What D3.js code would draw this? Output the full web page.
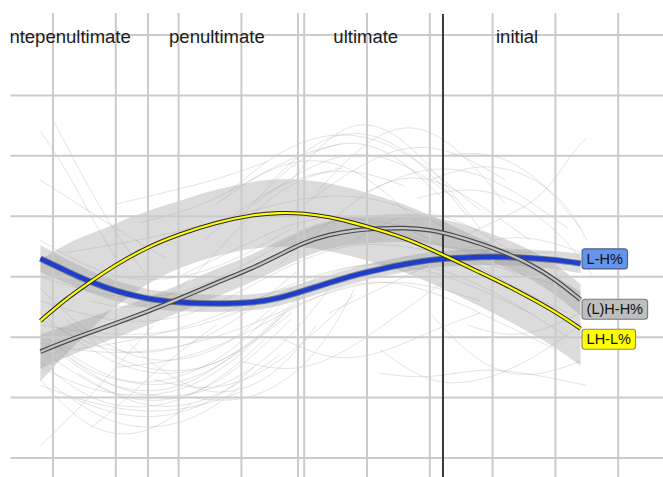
<!DOCTYPE html>
<html><head><meta charset="utf-8">
<script src="https://cdn.jsdelivr.net/npm/d3@7"></script>
<style>body{margin:0;background:#fff}svg{display:block}</style>
</head><body>
<svg id="chart" width="663" height="477"></svg>
<script>
// ---------- DATA ----------
const timePoints = [-0.2,0.2,0.6,1.0,1.5,2.0,2.6,3.2,3.6,4.0,4.4,4.8,5.2,5.6,6.0,6.4,6.8,7.2,7.6,8.0,8.4];
const seriesNames = ["L-H%", "(L)H-H%", "LH-L%"];
const valuesLH  = [3.30,3.10,2.91,2.76,2.63,2.57,2.55,2.57,2.64,2.77,2.90,3.03,3.12,3.21,3.28,3.31,3.33,3.33,3.31,3.28,3.22];
const valuesLHH = [1.76,1.93,2.08,2.23,2.42,2.63,2.90,3.15,3.36,3.57,3.70,3.77,3.80,3.81,3.78,3.68,3.55,3.40,3.21,2.96,2.62];
const valuesLHL = [2.27,2.63,2.92,3.20,3.49,3.70,3.90,4.03,4.06,4.05,3.99,3.89,3.77,3.64,3.46,3.27,3.07,2.87,2.65,2.42,2.14];
const seLH  = [0.22,0.20,0.18,0.17,0.15,0.15,0.14,0.13,0.13,0.13,0.13,0.13,0.13,0.13,0.13,0.13,0.13,0.14,0.14,0.15,0.16];
const seLHH = [0.28,0.26,0.25,0.24,0.23,0.23,0.23,0.23,0.23,0.23,0.23,0.23,0.23,0.23,0.23,0.23,0.23,0.23,0.24,0.25,0.26];
const seLHL = [1.00,0.92,0.79,0.68,0.60,0.55,0.55,0.55,0.56,0.56,0.56,0.56,0.56,0.56,0.56,0.56,0.56,0.57,0.58,0.59,0.61];

const syllables = ["antepenultimate", "penultimate", "ultimate", "initial"];
const syllableLabelPos = [0.19, 2.61, 4.98, 7.39];
const syllableBoundaries = [1.513, 3.901];
const wordBoundary = [6.21];
const xGridTicks = [0,1,2,3,4,5,6,7,8,9];
const yGridTicks = [0,1,2,3,4,5,6,7];

// individual (background) contours, [time, value] pairs
const backgroundContours = [
  [[-0.2,1.6],[0.5,1.0],[1.2,0.8],[2.0,0.9],[2.8,1.4],[3.4,2.0]],
  [[-0.2,2.0],[0.6,1.3],[1.4,1.05],[2.2,1.2],[3.0,1.8]],
  [[0.0,1.2],[0.8,0.6],[1.6,0.45],[2.4,0.7],[3.0,1.2]],
  [[-0.2,2.4],[0.8,1.6],[1.8,1.3],[2.8,1.6],[3.8,2.4]],
  [[0.2,1.7],[1.0,1.1],[2.0,0.95],[3.0,1.3],[3.8,2.0],[4.4,2.8]],
  [[-0.2,1.3],[0.4,0.6],[1.0,0.35],[1.6,0.45],[2.2,0.9]],
  [[-0.2,0.2],[0.4,0.8],[1.0,1.5],[1.6,2.2]],
  [[0.6,0.5],[1.2,1.0],[1.8,1.6],[2.6,2.2]],
  [[1.2,1.9],[2.0,1.2],[2.8,1.0],[3.6,1.4],[4.2,2.2]],
  [[2.2,1.0],[3.0,0.9],[3.8,1.3],[4.4,2.0],[4.8,2.8]],
  [[3.0,4.0],[3.8,4.9],[4.6,5.3],[5.4,5.1],[6.2,4.3]],
  [[3.4,4.5],[4.2,5.3],[5.0,5.45],[5.8,5.0],[6.6,4.0]],
  [[2.6,4.2],[3.4,4.8],[4.2,5.0],[5.0,4.7],[5.8,3.9]],
  [[3.8,4.6],[4.6,5.6],[5.4,5.5],[6.2,4.6],[6.8,3.8]],
  [[4.2,4.4],[5.0,5.3],[5.8,5.6],[6.6,5.0],[7.2,4.2]],
  [[6.0,4.6],[6.8,4.9],[7.6,4.7],[8.2,4.2],[8.5,3.6]],
  [[6.2,5.0],[7.0,5.1],[7.8,4.6],[8.4,3.8]],
  [[5.8,4.3],[6.6,4.5],[7.4,4.3],[8.2,3.6],[8.6,3.0]],
  [[6.4,3.6],[7.2,4.0],[7.8,4.3],[8.3,5.1],[8.5,5.3]],
  [[6.0,2.4],[6.8,1.5],[7.6,1.3],[8.4,1.6]],
  [[5.2,1.8],[6.0,1.2],[6.8,1.25],[7.6,1.6],[8.4,2.2]],
  [[-0.2,5.4],[0.2,4.8],[0.6,4.0],[1.0,3.3]],
  [[0.0,5.6],[0.5,4.6],[1.0,3.7],[1.5,3.0]],
  [[-0.2,4.6],[0.4,4.2],[1.0,3.8],[1.8,3.3]],
  [[-0.2,3.0],[1.0,2.6],[2.2,2.7],[3.4,3.4],[4.6,4.1],[5.8,3.8],[7.0,3.0],[8.2,2.4]],
  [[-0.2,2.6],[1.0,2.2],[2.2,2.3],[3.4,3.0],[4.6,3.6],[5.8,3.5],[7.0,3.2],[8.2,2.8]],
  [[-0.2,2.2],[1.0,2.0],[2.2,2.1],[3.4,2.6],[4.6,3.2],[5.8,3.3],[7.0,2.8],[8.2,2.0]],
  [[0.2,3.4],[1.4,3.6],[2.6,3.9],[3.8,4.3],[5.0,4.4],[6.2,3.9],[7.4,3.0]],
  [[0.4,1.8],[1.6,2.0],[2.8,2.4],[4.0,3.0],[5.2,3.3],[6.4,3.0],[7.6,2.4]],
  [[-0.2,1.9],[0.8,1.7],[2.0,1.8],[3.2,2.2],[4.4,2.8],[5.6,3.0],[6.8,2.6]],
  [[1.0,1.5],[2.0,1.6],[3.0,2.0],[4.0,2.6],[5.0,3.0],[6.0,2.8],[7.0,2.3],[8.0,1.8]],
  [[2.0,3.0],[3.0,3.5],[4.0,4.0],[5.0,4.0],[6.0,3.5],[7.0,3.4],[8.0,3.4]],
  [[-0.2,3.6],[0.8,3.0],[1.8,2.9],[2.8,3.2],[3.8,3.8]],
  [[3.6,3.2],[4.4,3.9],[5.2,4.6],[6.0,4.7],[6.8,4.2],[7.6,3.6]],
  [[4.4,2.4],[5.2,2.8],[6.0,3.2],[6.8,3.6],[7.6,3.7],[8.4,3.4]],
  [[5.2,1.4],[6.0,1.3],[6.8,1.5],[7.6,1.4],[8.5,1.2]],
  [[0.6,2.6],[1.4,2.4],[2.2,2.9],[3.0,3.9],[3.8,4.6],[4.6,4.8]],
  [[4.8,3.6],[5.6,4.1],[6.4,4.0],[7.2,3.5],[8.0,2.9],[8.5,2.5]],
  [[-0.2,1.8],[0.6,1.2],[1.4,0.9],[2.2,1.0],[3.0,1.5],[3.8,2.3]],
  [[-0.2,2.1],[0.4,1.5],[1.2,1.2],[2.0,1.3],[2.8,1.7],[3.6,2.5]],
  [[0.0,1.9],[0.8,1.35],[1.6,1.15],[2.4,1.35],[3.2,1.9],[4.0,2.7]],
  [[0.4,1.4],[1.2,0.9],[2.0,0.8],[2.8,1.1],[3.6,1.7]],
  [[-0.2,2.8],[0.6,2.0],[1.4,1.6],[2.2,1.6],[3.0,2.0],[3.8,2.8]],
  [[0.2,2.3],[1.0,1.6],[1.8,1.4],[2.6,1.5],[3.4,2.1],[4.2,3.0]],
  [[1.6,1.3],[2.4,1.1],[3.2,1.3],[4.0,1.9],[4.8,2.7]],
  [[-0.2,1.2],[0.6,0.9],[1.4,0.75],[2.2,0.8],[3.0,1.1]],
  [[3.0,1.6],[3.8,1.4],[4.6,1.7],[5.4,2.3],[6.2,2.9]],
  [[3.6,2.0],[4.4,1.6],[5.2,1.7],[6.0,2.1],[6.8,2.4]],
  [[2.8,4.4],[3.6,5.1],[4.4,5.4],[5.2,5.3],[6.0,4.8],[6.8,4.1]],
  [[3.2,4.2],[4.0,4.8],[4.8,5.1],[5.6,4.9],[6.4,4.3]],
  [[4.0,4.2],[4.8,4.8],[5.6,5.2],[6.4,5.1],[7.2,4.6]],
  [[2.4,3.6],[3.2,4.3],[4.0,4.7],[4.8,4.8],[5.6,4.5]],
  [[5.0,4.4],[5.8,4.8],[6.6,4.8],[7.4,4.4],[8.2,3.8]],
  [[6.6,2.2],[7.2,2.0],[7.8,2.1],[8.4,2.4]],
  [[1.0,4.2],[1.8,4.4],[2.6,4.6],[3.4,4.9]],
  [[1.4,3.9],[2.2,4.1],[3.0,4.5],[3.8,5.0],[4.6,5.2]],
  [[-0.2,1.5],[0.5,1.15],[1.3,1.0],[2.1,1.1],[2.9,1.6],[3.7,2.4]],
  [[0.3,1.0],[1.0,0.7],[1.8,0.65],[2.6,0.95],[3.2,1.5]],
  [[-0.2,2.3],[0.7,1.8],[1.5,1.7],[2.3,1.9],[3.1,2.4],[3.9,3.1]]
];

// ---------- STYLE ----------
const W = 663, H = 477;
const seriesStyle = {
  "L-H%":    {values: valuesLH,  se: seLH,  under: "#40465f", underW: 6.4, underO: 0.6, color: "#1e3ecb", w: 4.5, fill: "#6495ed", border: "#4b5f8a", nudge: -4.5},
  "(L)H-H%": {values: valuesLHH, se: seLHH, under: "#4a4a4a", underW: 4.6, underO: 1,   color: "#c4c4c4", w: 2.2, fill: "#bebebe", border: "#7a7a7a", nudge: 9.5},
  "LH-L%":   {values: valuesLHL, se: seLHL, under: "#2a2a2a", underW: 4.2, underO: 1,   color: "#ffff00", w: 2.2, fill: "#ffff00", border: "#8a8a5a", nudge: 10.5}
};

const x = d3.scaleLinear().domain([0, 9]).range([53, 618.2]);
const y = d3.scaleLinear().domain([0, 7]).range([458, 35]);

const svg = d3.select("#chart");
svg.append("defs").append("clipPath").attr("id", "panel")
  .append("rect").attr("x", 10.5).attr("y", 13).attr("width", W - 10.5).attr("height", H - 13);

const g = svg.append("g").attr("clip-path", "url(#panel)");

// background contours
const bgLine = d3.line().x(d => x(d[0])).y(d => y(d[1])).curve(d3.curveBasis);
g.append("g").selectAll("path").data(backgroundContours).join("path")
  .attr("d", bgLine).attr("fill", "none")
  .attr("stroke", "#a8a8a8").attr("stroke-opacity", 0.36).attr("stroke-width", 0.9);

// confidence bands
const band = d3.area()
  .x(d => x(d.t)).y0(d => y(d.v - d.se)).y1(d => y(d.v + d.se))
  .curve(d3.curveBasis);
const order = ["LH-L%", "(L)H-H%", "L-H%"];
order.forEach(name => {
  const s = seriesStyle[name];
  const pts = timePoints.map((t, i) => ({t, v: s.values[i], se: s.se[i]}));
  g.append("path").attr("d", band(pts)).attr("fill", "#9a9a9a").attr("fill-opacity", 0.36);
});

// grid
const grid = g.append("g").attr("stroke", "#cbcbcb").attr("stroke-width", 2);
grid.selectAll("line.h").data(yGridTicks).join("line").attr("class", "h")
  .attr("x1", 10).attr("x2", W).attr("y1", d => y(d)).attr("y2", d => y(d));
grid.selectAll("line.v").data(xGridTicks).join("line").attr("class", "v")
  .attr("x1", d => x(d)).attr("x2", d => x(d)).attr("y1", 13).attr("y2", H);
grid.selectAll("line.b").data(syllableBoundaries).join("line").attr("class", "b")
  .attr("x1", d => x(d)).attr("x2", d => x(d)).attr("y1", 13).attr("y2", H);
g.selectAll("line.w").data(wordBoundary).join("line").attr("class", "w")
  .attr("x1", d => x(d)).attr("x2", d => x(d)).attr("y1", 14).attr("y2", H)
  .attr("stroke", "#3a3a3a").attr("stroke-width", 2);

// syllable labels
g.append("g").selectAll("text").data(syllables).join("text")
  .attr("x", (d, i) => x(syllableLabelPos[i])).attr("y", y(7) + 8)
  .attr("text-anchor", "middle")
  .attr("font-family", "'Liberation Sans', Arial, sans-serif").attr("font-size", 18.5)
  .attr("fill", "#1b1b1b").text(d => d);

// mean curves
const line = d3.line().x(d => x(d.t)).y(d => y(d.v)).curve(d3.curveBasis);
["L-H%", "(L)H-H%", "LH-L%"].forEach(name => {
  const s = seriesStyle[name];
  const pts = timePoints.map((t, i) => ({t, v: s.values[i]}));
  g.append("path").attr("d", line(pts)).attr("fill", "none")
    .attr("stroke", s.under).attr("stroke-width", s.underW).attr("stroke-opacity", s.underO);
  g.append("path").attr("d", line(pts)).attr("fill", "none")
    .attr("stroke", s.color).attr("stroke-width", s.w);
});

// end labels
seriesNames.forEach(name => {
  const s = seriesStyle[name];
  const lastT = timePoints[timePoints.length - 1];
  const lastV = s.values[s.values.length - 1];
  const lx = x(lastT) + 1.5, cy = y(lastV) + s.nudge;
  const lg = svg.append("g");
  const rect = lg.append("rect");
  const txt = lg.append("text").attr("x", lx + 4.6).attr("y", cy + 5.2)
    .attr("font-family", "'Liberation Sans', Arial, sans-serif").attr("font-size", 14.5)
    .attr("fill", "#111").text(name);
  const tw = txt.node().getComputedTextLength();
  rect.attr("x", lx).attr("y", cy - 10).attr("width", tw + 9.2).attr("height", 20)
    .attr("rx", 3).attr("fill", s.fill).attr("stroke", s.border).attr("stroke-width", 1.1);
});
</script>
</body></html>
